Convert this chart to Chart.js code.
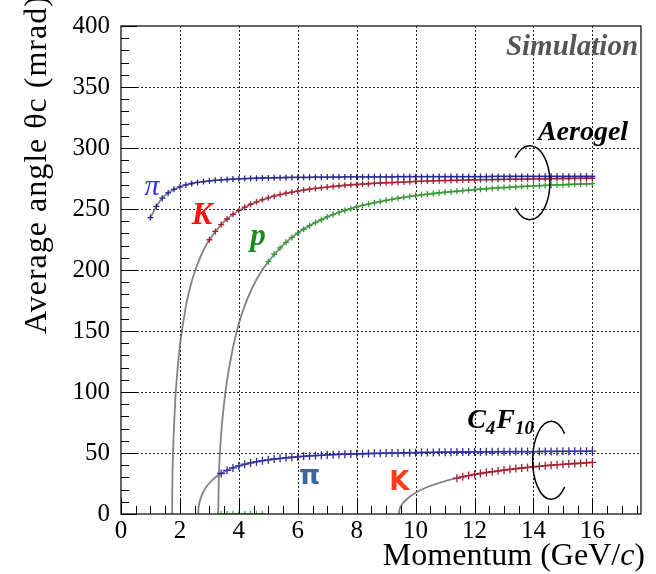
<!DOCTYPE html>
<html>

<head>
    <meta charset="utf-8">
    <title>Average Cherenkov angle</title>
    <script src="https://cdn.jsdelivr.net/npm/chart.js"></script>
    <style>
        html, body { margin: 0; padding: 0; background: #fff; }
    </style>
</head>

<body>
    <canvas id="angleChart" width="656" height="574"></canvas>

    <script>
        // Aerogel radiator: momentum bins (GeV/c) and average angle (mrad)
        const aeroPiP = [1.0, 1.2, 1.4, 1.6, 1.8, 2.0, 2.2, 2.4, 2.6, 2.8, 3.0, 3.2, 3.4, 3.6, 3.8, 4.0, 4.2, 4.4, 4.6, 4.8,
            5.0, 5.2, 5.4, 5.6, 5.8, 6.0, 6.2, 6.4, 6.6, 6.8, 7.0, 7.2, 7.4, 7.6, 7.8, 8.0, 8.2, 8.4, 8.6, 8.8,
            9.0, 9.2, 9.4, 9.6, 9.8, 10.0, 10.2, 10.4, 10.6, 10.8, 11.0, 11.2, 11.4, 11.6, 11.8, 12.0, 12.2, 12.4, 12.6, 12.8,
            13.0, 13.2, 13.4, 13.6, 13.8, 14.0, 14.2, 14.4, 14.6, 14.8, 15.0, 15.2, 15.4, 15.6, 15.8, 16.0];
        const aeroPiTheta = [243, 252.1, 258.9, 263.2, 266.1, 268.2, 269.7, 270.9, 271.8, 272.5,
            273.1, 273.5, 273.9, 274.2, 274.5, 274.7, 274.9, 275.1, 275.2, 275.4,
            275.5, 275.6, 275.7, 275.8, 275.9, 275.9, 276.0, 276.0, 276.1, 276.1,
            276.2, 276.2, 276.2, 276.3, 276.3, 276.3, 276.3, 276.4, 276.4, 276.4,
            276.4, 276.4, 276.5, 276.5, 276.5, 276.5, 276.5, 276.5, 276.5, 276.6,
            276.6, 276.6, 276.6, 276.6, 276.6, 276.6, 276.6, 276.6, 276.7, 276.7,
            276.7, 276.7, 276.7, 276.7, 276.7, 276.7, 276.7, 276.8, 276.8, 276.8,
            276.8, 276.8, 276.8, 276.8, 276.8, 276.8];

        const aeroKP = [3.0, 3.2, 3.4, 3.6, 3.8, 4.0, 4.2, 4.4, 4.6, 4.8,
            5.0, 5.2, 5.4, 5.6, 5.8, 6.0, 6.2, 6.4, 6.6, 6.8, 7.0, 7.2, 7.4, 7.6, 7.8, 8.0, 8.2, 8.4, 8.6, 8.8,
            9.0, 9.2, 9.4, 9.6, 9.8, 10.0, 10.2, 10.4, 10.6, 10.8, 11.0, 11.2, 11.4, 11.6, 11.8, 12.0, 12.2, 12.4, 12.6, 12.8,
            13.0, 13.2, 13.4, 13.6, 13.8, 14.0, 14.2, 14.4, 14.6, 14.8, 15.0, 15.2, 15.4, 15.6, 15.8, 16.0];
        const aeroKTheta = [224.8, 231.6, 237.2, 241.8, 245.6, 248.8, 251.5, 253.9, 255.9, 257.7,
            259.2, 260.5, 261.8, 262.9, 263.9, 264.7, 265.5, 266.2, 266.9, 267.5,
            268.0, 268.5, 269.0, 269.4, 269.8, 270.1, 270.4, 270.7, 271.0, 271.3,
            271.5, 271.7, 271.9, 272.1, 272.3, 272.6, 272.7, 272.9, 273.0, 273.2,
            273.3, 273.4, 273.5, 273.7, 273.8, 273.9, 274.0, 274.1, 274.1, 274.2,
            274.3, 274.4, 274.5, 274.5, 274.6, 274.7, 274.8, 274.8, 274.9, 274.9,
            275.0, 275.0, 275.1, 275.1, 275.2, 275.2];

        const aeroProP = [5.0, 5.2, 5.4, 5.6, 5.8, 6.0, 6.2, 6.4, 6.6, 6.8, 7.0, 7.2, 7.4, 7.6, 7.8, 8.0, 8.2, 8.4, 8.6, 8.8,
            9.0, 9.2, 9.4, 9.6, 9.8, 10.0, 10.2, 10.4, 10.6, 10.8, 11.0, 11.2, 11.4, 11.6, 11.8, 12.0, 12.2, 12.4, 12.6, 12.8,
            13.0, 13.2, 13.4, 13.6, 13.8, 14.0, 14.2, 14.4, 14.6, 14.8, 15.0, 15.2, 15.4, 15.6, 15.8, 16.0];
        const aeroProTheta = [206.8, 212.9, 218.1, 222.7, 226.7, 230.3, 233.4, 236.3, 238.9, 241.2,
            243.5, 245.4, 247.2, 248.8, 250.3, 251.7, 252.9, 254.0, 255.1, 256.1,
            257.1, 257.9, 258.8, 259.6, 260.3, 261.0, 261.6, 262.2, 262.7, 263.3,
            263.8, 264.2, 264.7, 265.1, 265.5, 265.9, 266.2, 266.6, 266.9, 267.3,
            267.6, 267.9, 268.1, 268.4, 268.6, 268.9, 269.1, 269.3, 269.5, 269.7,
            269.9, 270.1, 270.3, 270.4, 270.6, 270.8];
        // empty proton bins below the fitted range
        const aeroProZeroP = [3.4, 3.6, 3.8, 4.0, 4.2, 4.4, 4.6, 4.8];
        const aeroProZeroTheta = [0, 0, 0, 0, 0, 0, 0, 0];

        // fitted curves running down to threshold (aerogel)
        const aeroKFitP = [1.737, 1.74, 1.76, 1.78, 1.8, 1.85, 1.9, 2.0, 2.2, 2.4, 2.6, 2.8, 3.0, 3.5, 4, 5, 6, 7, 8, 10, 12, 14, 16];
        const aeroKFitTheta = [0, 15.7, 44, 60, 72, 97, 113, 138, 170, 190.5, 205, 216.2, 224.8, 239.6, 248.8, 259.2, 264.7, 268.0, 270.1, 272.6, 273.9, 274.7, 275.2];
        const aeroProFitP = [3.30, 3.32, 3.35, 3.4, 3.5, 3.6, 3.8, 4.0, 4.2, 4.4, 4.6, 4.8, 5.0, 5.5, 6, 7, 8, 9, 10, 12, 14, 16];
        const aeroProFitTheta = [0, 29.6, 46.9, 65.7, 91.1, 109.4, 136.5, 156, 170.8, 182.5, 192.2, 200.2, 206.8, 220.4, 230.3, 243.5, 251.7, 257.1, 261.0, 265.9, 268.9, 270.8];

        // C4F10 radiator
        const gasPiP = [3.4, 3.6, 3.8, 4.0, 4.2, 4.4, 4.6, 4.8, 5.0, 5.2, 5.4, 5.6, 5.8, 6.0, 6.2, 6.4, 6.6, 6.8, 7.0, 7.2,
            7.4, 7.6, 7.8, 8.0, 8.2, 8.4, 8.6, 8.8, 9.0, 9.2, 9.4, 9.6, 9.8, 10.0, 10.2, 10.4, 10.6, 10.8, 11.0, 11.2,
            11.4, 11.6, 11.8, 12.0, 12.2, 12.4, 12.6, 12.8, 13.0, 13.2, 13.4, 13.6, 13.8, 14.0, 14.2, 14.4, 14.6, 14.8, 15.0, 15.2,
            15.4, 15.6, 15.8, 16.0];
        const gasPiTheta = [33.2, 35.8, 37.8, 39.4, 40.8, 41.9, 42.9, 43.7, 44.4, 45.1,
            45.6, 46.1, 46.5, 46.9, 47.3, 47.6, 47.9, 48.1, 48.4, 48.6,
            48.8, 49.0, 49.1, 49.3, 49.4, 49.6, 49.7, 49.8, 49.9, 50.0,
            50.1, 50.2, 50.3, 50.3, 50.4, 50.5, 50.5, 50.6, 50.7, 50.7,
            50.8, 50.8, 50.9, 50.9, 50.9, 51.0, 51.0, 51.1, 51.1, 51.1,
            51.2, 51.2, 51.2, 51.2, 51.3, 51.3, 51.3, 51.3, 51.4, 51.4,
            51.4, 51.4, 51.4, 51.5];
        const gasKP = [11.4, 11.6, 11.8, 12.0, 12.2, 12.4, 12.6, 12.8, 13.0, 13.2, 13.4, 13.6, 13.8, 14.0, 14.2, 14.4,
            14.6, 14.8, 15.0, 15.2, 15.4, 15.6, 15.8, 16.0];
        const gasKTheta = [29.4, 30.5, 31.5, 32.4, 33.2, 34.0, 34.7, 35.4, 36.0, 36.6, 37.2, 37.7,
            38.2, 38.7, 39.1, 39.6, 40.0, 40.4, 40.7, 41.1, 41.4, 41.7, 42.0, 42.3];

        const gasPiFitP = [2.62, 2.63, 2.65, 2.7, 2.8, 2.9, 3.0, 3.2, 3.4, 3.6, 3.8, 4.0, 4.5, 5, 6, 7, 8, 10, 12, 14, 16];
        const gasPiFitTheta = [0, 4.5, 7.8, 12.6, 18.4, 22.4, 25.4, 29.9, 33.2, 35.8, 37.8, 39.4, 42.4, 44.4, 46.9, 48.4, 49.3, 50.3, 50.9, 51.2, 51.5];
        const gasKFitP = [9.43, 9.45, 9.5, 9.6, 9.8, 10, 10.3, 10.6, 11, 11.4, 12, 13, 14, 15, 16];
        const gasKFitTheta = [0, 3.4, 6.4, 9.8, 14.2, 17.4, 21.1, 23.9, 27.0, 29.4, 32.4, 36.0, 38.7, 40.7, 42.3];

        // axis settings
        const xMax = 17.65;
        const xGrid = [2, 4, 6, 8, 10, 12, 14, 16];
        const yGrid = [50, 100, 150, 200, 250, 300, 350];

        const serif = "'Liberation Serif', 'Times New Roman', serif";
        const sans = "'DejaVu Sans', sans-serif";

        function pts(xs, ys) {
            return xs.map((v, i) => ({ x: v, y: ys[i] }));
        }

        function markers(xs, ys, color, r) {
            return {
                data: pts(xs, ys),
                showLine: false,
                pointStyle: "cross",
                pointRadius: r,
                pointBorderWidth: 1.3,
                borderColor: color,
                backgroundColor: color,
                order: 0,
            };
        }

        function fitLine(xs, ys) {
            return {
                data: pts(xs, ys),
                showLine: true,
                pointRadius: 0,
                borderColor: "rgba(100, 100, 100, 0.8)",
                borderWidth: 1.8,
                cubicInterpolationMode: "monotone",
                order: 1,
            };
        }

        // draws grid, frame, inward ticks, titles and annotations
        const decor = {
            id: "decor",
            beforeDatasetsDraw(chart) {
                const { ctx, chartArea: a, scales: { x, y } } = chart;
                ctx.save();
                ctx.strokeStyle = "#222";
                ctx.lineWidth = 1;
                ctx.setLineDash([2, 2]);
                ctx.beginPath();
                xGrid.forEach((v) => {
                    const px = Math.round(x.getPixelForValue(v)) + 0.5;
                    ctx.moveTo(px, a.top);
                    ctx.lineTo(px, a.bottom);
                });
                yGrid.forEach((v) => {
                    const py = Math.round(y.getPixelForValue(v)) + 0.5;
                    ctx.moveTo(a.left, py);
                    ctx.lineTo(a.right, py);
                });
                ctx.stroke();
                ctx.restore();
            },
            afterDraw(chart) {
                const { ctx, chartArea: a, scales: { x, y } } = chart;
                ctx.save();

                // frame
                ctx.strokeStyle = "#000";
                ctx.lineWidth = 1.2;
                ctx.strokeRect(a.left, a.top, a.right - a.left, a.bottom - a.top);

                // inward tick marks
                ctx.lineWidth = 1;
                ctx.beginPath();
                for (let v = 0; v <= 400; v += 10) {
                    const py = Math.round(y.getPixelForValue(v)) + 0.5;
                    const len = v % 50 === 0 ? 16 : 8;
                    ctx.moveTo(a.left, py);
                    ctx.lineTo(a.left + len, py);
                }
                for (let v = 0; v <= xMax; v += 0.5) {
                    const px = Math.round(x.getPixelForValue(v)) + 0.5;
                    const len = v % 2 === 0 ? 16 : 8;
                    ctx.moveTo(px, a.bottom);
                    ctx.lineTo(px, a.bottom - len);
                }
                ctx.stroke();

                // axis titles
                ctx.fillStyle = "#000";
                ctx.textBaseline = "alphabetic";
                ctx.font = "32px " + serif;
                ctx.save();
                ctx.translate(46, 334);
                ctx.rotate(-Math.PI / 2);
                ctx.textAlign = "left";
                ctx.letterSpacing = "1px";
                ctx.fillText("Average angle θc (mrad)", 0, 0);
                ctx.restore();

                const t1 = "Momentum (GeV/";
                const t3 = ")";
                ctx.font = "32px " + serif;
                const w1 = ctx.measureText(t1).width;
                const w3 = ctx.measureText(t3).width;
                ctx.font = "italic 32px " + serif;
                const w2 = ctx.measureText("c").width;
                let tx = 645 - (w1 + w2 + w3);
                ctx.textAlign = "left";
                ctx.font = "32px " + serif;
                ctx.fillText(t1, tx, 565);
                ctx.font = "italic 32px " + serif;
                ctx.fillText("c", tx + w1, 565);
                ctx.font = "32px " + serif;
                ctx.fillText(t3, tx + w1 + w2, 565);

                // annotations in data coordinates
                const text = (s, vx, vy, font, color, align) => {
                    ctx.font = font;
                    ctx.fillStyle = color;
                    ctx.textAlign = align || "center";
                    ctx.fillText(s, x.getPixelForValue(vx), y.getPixelForValue(vy));
                };
                text("Simulation", 17.55, 376.5, "bold italic 29px " + serif, "#555", "right");
                text("Aerogel", 14.15, 306.2, "bold italic 28px " + serif, "#000", "left");
                text("π", 1.05, 261.6, "italic 30px " + serif, "#3030ff");
                text("K", 2.75, 237.5, "bold italic 31px " + serif, "#ff1010");
                text("p", 4.65, 220.6, "bold italic 31px " + serif, "#1a8a1a");
                text("π", 6.4, 25.0, "bold 27px " + sans, "#3a6898");
                text("K", 9.45, 19.6, "bold 26px " + sans, "#ff3a1a");

                // C4F10 with subscripts
                ctx.fillStyle = "#000";
                ctx.textAlign = "left";
                let cx = x.getPixelForValue(11.75);
                const cy = y.getPixelForValue(70.6);
                const parts = [["C", false], ["4", true], ["F", false], ["10", true]];
                parts.forEach(([s, sub]) => {
                    ctx.font = sub ? "bold italic 19px " + serif : "bold italic 28px " + serif;
                    ctx.fillText(s, cx, sub ? cy + 6 : cy);
                    cx += ctx.measureText(s).width + (sub ? 1 : 0);
                });

                // radiator brackets
                ctx.strokeStyle = "#000";
                ctx.lineWidth = 1.5;
                ctx.beginPath();
                ctx.ellipse(x.getPixelForValue(13.88), y.getPixelForValue(271.6), 20, 37, 0, -2.4, 2.4, false);
                ctx.stroke();
                ctx.beginPath();
                ctx.ellipse(x.getPixelForValue(14.6), y.getPixelForValue(44), 18.5, 39, 0, -0.75, 0.75, true);
                ctx.stroke();

                ctx.restore();
            },
        };

        const ctx = document.getElementById("angleChart").getContext("2d");
        new Chart(ctx, {
            type: "scatter",
            data: {
                datasets: [
                    markers(aeroPiP, aeroPiTheta, "#24249c", 3),
                    markers(aeroKP, aeroKTheta, "#b01c2c", 3),
                    markers(aeroProP, aeroProTheta, "#2ea02e", 3),
                    markers(aeroProZeroP, aeroProZeroTheta, "#3cb43c", 3),
                    markers(gasPiP, gasPiTheta, "#2c2ca4", 4),
                    markers(gasKP, gasKTheta, "#a81c2c", 4),
                    fitLine(aeroPiP, aeroPiTheta),
                    fitLine(aeroKFitP, aeroKFitTheta),
                    fitLine(aeroProFitP, aeroProFitTheta),
                    fitLine(gasPiFitP, gasPiFitTheta),
                    fitLine(gasKFitP, gasKFitTheta),
                ],
            },
            options: {
                responsive: false,
                animation: false,
                layout: { padding: { top: 17, right: 15, left: 0, bottom: 0 } },
                plugins: {
                    legend: { display: false },
                    tooltip: { enabled: false },
                },
                scales: {
                    x: {
                        type: "linear",
                        min: 0,
                        max: xMax,
                        grid: { display: false, drawTicks: false },
                        border: { display: false },
                        ticks: {
                            stepSize: 2,
                            includeBounds: false,
                            maxRotation: 0,
                            padding: 2,
                            color: "#000",
                            font: { family: serif, size: 25 },
                        },
                        afterFit(scale) {
                            scale.height = 60;
                        },
                    },
                    y: {
                        min: 0,
                        max: 400,
                        grid: { display: false, drawTicks: false },
                        border: { display: false },
                        ticks: {
                            stepSize: 50,
                            padding: 11,
                            color: "#000",
                            font: { family: serif, size: 25 },
                        },
                        afterFit(scale) {
                            scale.width = 121;
                        },
                    },
                },
            },
            plugins: [decor],
        });
    </script>
</body>

</html>
